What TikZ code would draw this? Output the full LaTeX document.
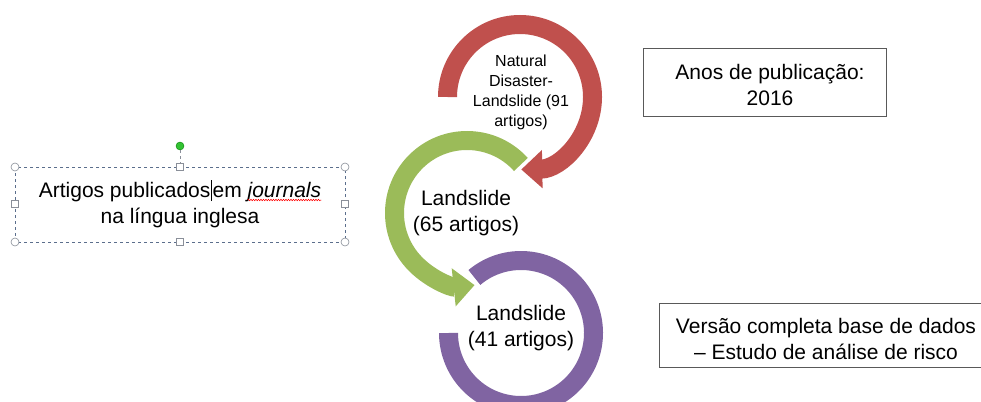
\documentclass[tikz,border=0pt]{standalone}
\usepackage{fontspec}
\setmainfont{Liberation Sans}
\usetikzlibrary{arrows.meta,decorations.pathmorphing,calc}
\definecolor{cred}{HTML}{C0504D}
\definecolor{cgreen}{HTML}{9BBB59}
\definecolor{cpurple}{HTML}{8064A2}
\definecolor{selblue}{HTML}{5B6E8C}
\definecolor{handle}{HTML}{8A8F99}
\newlength\jrwidth
\begin{document}
\settowidth{\jrwidth}{\fontsize{21}{26}\selectfont\textit{journals}}%
\begin{tikzpicture}[x=1pt,y=-1pt,
  ring/.style={line width=19pt},
  ringtip/.style={-{Triangle[width=37pt,length=21pt]}},
  bigtext/.style={align=center,font=\fontsize{21}{26}\selectfont,inner sep=0pt},
  smalltext/.style={align=center,font=\fontsize{16}{20}\selectfont,inner sep=0pt},
  infobox/.style={draw=black!65,line width=0.8pt,fill=white},
  cornerhandle/.style={circle,draw=handle,fill=white,line width=0.6pt,minimum size=8pt,inner sep=0pt},
  edgehandle/.style={rectangle,draw=handle,fill=white,line width=0.6pt,minimum size=6.5pt,inner sep=0pt}]
\useasboundingbox (0,0) rectangle (981,401);
\clip (0,0) rectangle (981,401);

% ring centres
\coordinate (rc) at (520,97);
\coordinate (gc) at (467,213);
\coordinate (pc) at (521,333);

% purple ring
\draw[ring,cpurple] (pc) ++(130:72.5pt) arc[start angle=130,end angle=-180,radius=72.5pt];
% green ring with arrow
\draw[ring,cgreen,ringtip] (gc) ++(42:72.5pt) arc[start angle=42,end angle=276,radius=72.5pt];
% red ring with arrow
\draw[ring,cred,ringtip] (rc) ++(180:72.5pt) arc[start angle=180,end angle=-89,radius=72.5pt];

% ring texts
\node[smalltext] (rt) at (521,92) {Natural\\Disaster-\\Landslide (91\\artigos)};
\node[bigtext] (gt) at (466,213) {Landslide\\(65 artigos)};
\node[bigtext] (pt) at (521,328) {Landslide\\(41 artigos)};

% left selected text box
\draw[selblue,dashed,line width=0.8pt] (15,167) rectangle (345,242);
\coordinate (topmid) at (180,167);
\node[circle,fill=green!70!black!80,draw=green!50!black,line width=0.4pt,minimum size=8pt,inner sep=0pt] (rot) at (180,146) {};
\draw[handle,dashed,line width=0.8pt] (rot) -- (topmid);
\node[cornerhandle] (h1) at (15,167) {};
\node[cornerhandle] (h2) at (345,167) {};
\node[cornerhandle] (h3) at (15,242) {};
\node[cornerhandle] (h4) at (345,242) {};
\node[edgehandle] (h5) at (180,167) {};
\node[edgehandle] (h6) at (180,242) {};
\node[edgehandle] (h7) at (15,204) {};
\node[edgehandle] (h8) at (345,204) {};
\node[bigtext,anchor=base] (l1) at (180,197) {Artigos publicados\kern0.5pt\rule[-4pt]{1.2pt}{21pt}\kern0.5pt em \textit{journals}};
\node[bigtext,anchor=base] (l2) at (180,223) {na língua inglesa};
\coordinate (jre) at ($(l1.base east)+(0,3)$);
\coordinate (jrs) at ($(jre)+(-\jrwidth,0pt)$);
\draw[red,line width=0.5pt,decorate,decoration={zigzag,amplitude=0.8pt,segment length=2.5pt}] (jrs) -- (jre);

% right boxes
\node[infobox,minimum width=243pt,minimum height=68pt,inner sep=0pt] (yb) at (764.5,82) {};
\node[bigtext] (ybt) at (770,85) {Anos de publicação:\\2016};
\draw[infobox] (659,303) rectangle (995,367);
\node[bigtext] (vbt) at (826,339) {Versão completa base de dados\\– Estudo de análise de risco};
\end{tikzpicture}
\end{document}
